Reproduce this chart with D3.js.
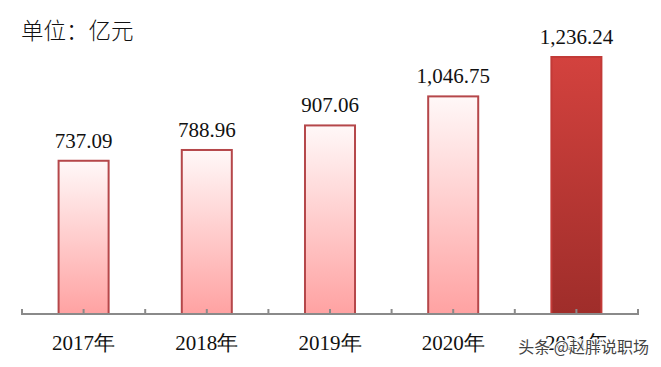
<!DOCTYPE html>
<html>
<head>
<meta charset="utf-8">
<script src="https://cdn.jsdelivr.net/npm/d3@7"></script>
<style>
  body { margin: 0; background: #fff; }
  svg { display: block; }
</style>
</head>
<body>
<div id="vis"></div>
<script>
var years = ["2017年", "2018年", "2019年", "2020年", "2021年"];
var values = [737.09, 788.96, 907.06, 1046.75, 1236.24];
var valueLabels = ["737.09", "788.96", "907.06", "1,046.75", "1,236.24"];
var unitTitle = "单位：亿元";
var watermark = "头条 @赵胖说职场";

var w = 661, h = 367;
var baseY = 314;
var serif = "'Liberation Serif', 'Times New Roman', serif";

var svg = d3.select("#vis").append("svg")
	.attr("width", w)
	.attr("height", h);

var defs = svg.append("defs");
var g1 = defs.append("linearGradient").attr("id", "pink")
	.attr("x1", 0).attr("y1", 0).attr("x2", 0).attr("y2", 1);
g1.append("stop").attr("offset", "0%").attr("stop-color", "#fff8f8");
g1.append("stop").attr("offset", "100%").attr("stop-color", "#ffa2a2");
var g2 = defs.append("linearGradient").attr("id", "dark")
	.attr("x1", 0).attr("y1", 0).attr("x2", 0).attr("y2", 1);
g2.append("stop").attr("offset", "0%").attr("stop-color", "#d3423e");
g2.append("stop").attr("offset", "100%").attr("stop-color", "#9f2d2a");

var x = d3.scaleBand()
	.domain(years)
	.range([22, 638])
	.paddingInner(0.594)
	.paddingOuter(0.297);

var y = d3.scaleLinear()
	.domain([0, d3.max(values)])
	.range([baseY, 57]);

var data = years.map(function(d, i) {
	return { year: d, v: values[i], label: valueLabels[i], last: i == years.length - 1 };
});

// title
svg.append("text")
	.attr("x", 21)
	.attr("y", 39)
	.attr("font-family", "'Noto Sans CJK SC', sans-serif")
	.attr("font-weight", 300)
	.attr("font-size", 22.5)
	.attr("fill", "#111")
	.text(unitTitle);

// bars
svg.selectAll("rect.bar")
	.data(data)
	.enter()
	.append("rect")
	.attr("class", "bar")
	.attr("x", function(d) { return x(d.year); })
	.attr("y", function(d) { return y(d.v); })
	.attr("width", x.bandwidth())
	.attr("height", function(d) { return baseY - y(d.v); })
	.attr("fill", function(d) { return d.last ? "url(#dark)" : "url(#pink)"; })
	.attr("stroke", function(d) { return d.last ? "#c23a37" : "#b5474a"; })
	.attr("stroke-width", 2);

// value labels
svg.selectAll("text.val")
	.data(data)
	.enter()
	.append("text")
	.attr("class", "val")
	.attr("x", function(d) { return x(d.year) + x.bandwidth() / 2; })
	.attr("y", function(d) { return y(d.v) - 13; })
	.attr("text-anchor", "middle")
	.attr("font-family", serif)
	.attr("font-size", 21)
	.attr("fill", "#111")
	.text(function(d) { return d.label; });

// axis: ticks at band edges and band centres
var step = x.step();
var r = x.range();
var ticks = [];
for (var i = 0; i <= years.length; i++) ticks.push(r[0] + i * step);
years.forEach(function(d) { ticks.push(x(d) + x.bandwidth() / 2); });

svg.selectAll("line.tick")
	.data(ticks)
	.enter()
	.append("line")
	.attr("class", "tick")
	.attr("x1", function(d) { return d; })
	.attr("x2", function(d) { return d; })
	.attr("y1", baseY)
	.attr("y2", baseY - 5)
	.attr("stroke", "#8a8a8a")
	.attr("stroke-width", 2);

svg.append("line")
	.attr("x1", r[0] - 1)
	.attr("x2", r[1] + 1)
	.attr("y1", baseY)
	.attr("y2", baseY)
	.attr("stroke", "#8a8a8a")
	.attr("stroke-width", 2);

// category labels
svg.selectAll("text.cat")
	.data(years)
	.enter()
	.append("text")
	.attr("class", "cat")
	.attr("x", function(d) { return x(d) + x.bandwidth() / 2; })
	.attr("y", 350)
	.attr("text-anchor", "middle")
	.attr("font-family", serif)
	.attr("font-size", 21)
	.attr("fill", "#111")
	.text(function(d) { return d; });

// watermark (overlaps the last label, as in the reference)
svg.append("text")
	.attr("x", 649)
	.attr("y", 353)
	.attr("text-anchor", "end")
	.attr("font-family", "'Noto Sans CJK SC', sans-serif")
	.attr("font-size", 16)
	.attr("fill", "#444")
	.attr("stroke", "#fff")
	.attr("stroke-width", 2)
	.attr("paint-order", "stroke")
	.text(watermark);
</script>
</body>
</html>
